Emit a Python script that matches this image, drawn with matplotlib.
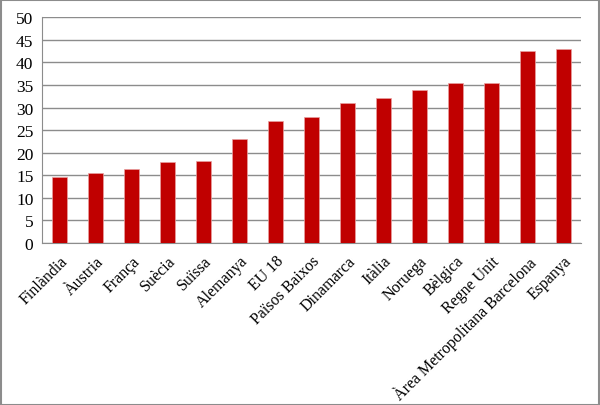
import matplotlib.pyplot as plt
import numpy as np

plt.rcParams["font.family"] = ["Liberation Serif", "DejaVu Serif"]

# %%
# Data
countries = [
    "Finlàndia", "Àustria", "França", "Suècia", "Suïssa", "Alemanya", "EU 18",
    "Països Baixos", "Dinamarca", "Itàlia", "Noruega", "Bèlgica", "Regne Unit",
    "Àrea Metropolitana Barcelona", "Espanya",
]
values = [14.6, 15.5, 16.4, 17.9, 18.1, 23.0, 27.0, 27.9, 31.0, 32.1, 33.8,
          35.4, 35.4, 42.5, 42.9]
yticks = [0, 5, 10, 15, 20, 25, 30, 35, 40, 45, 50]

# %%
# Plot
fig = plt.figure(figsize=(6, 4.06), dpi=100)
ax = fig.add_axes([0.0695, 0.399, 0.899, 0.556])

x = np.arange(len(countries))
ax.bar(x, values, width=0.42, color="#C00000", edgecolor="#E8A0A0",
       linewidth=0.5, zorder=3)

ax.set_xlim(-0.5, len(countries) - 0.5)
ax.set_ylim(0, 50)
ax.set_yticks(yticks)
ax.yaxis.grid(True, color="#8C8C8C", linewidth=1)
ax.set_axisbelow(True)

ax.set_xticks(x)
ax.set_xticklabels(countries, rotation=45, ha="right", rotation_mode="anchor",
                   fontsize=11.5)
ax.tick_params(axis="x", length=0, pad=7)
ax.tick_params(axis="y", length=0, labelsize=12.5, pad=6)

for side in ["top", "right"]:
    ax.spines[side].set_visible(False)
for side in ["left", "bottom"]:
    ax.spines[side].set_color("#8C8C8C")

# outer border
fig.patches.append(plt.Rectangle((0.001, 0.001), 0.997, 0.996,
                                 transform=fig.transFigure, fill=False,
                                 edgecolor="#8C8C8C", linewidth=1.5))

fig.savefig("out.png", dpi=100)
